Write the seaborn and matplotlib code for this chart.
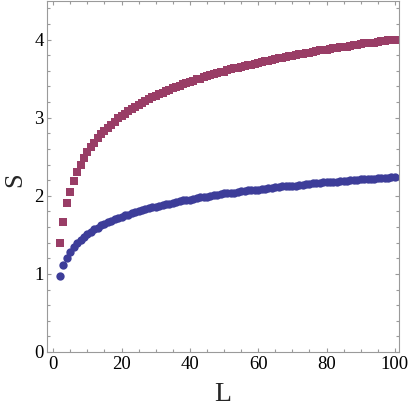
import numpy as np
import pandas as pd
import matplotlib
matplotlib.use("Agg")
import matplotlib.pyplot as plt
import seaborn as sns
from matplotlib.ticker import MultipleLocator

# ---- data ----
L_values = list(range(2, 101))

S_squares = [
    1.40, 1.66, 1.91, 2.05, 2.19, 2.30, 2.40, 2.49, 2.56, 2.62,
    2.68, 2.74, 2.79, 2.83, 2.87, 2.91, 2.95, 2.99, 3.02, 3.05,
    3.08, 3.11, 3.14, 3.16, 3.19, 3.21, 3.24, 3.26, 3.28, 3.30,
    3.32, 3.34, 3.36, 3.38, 3.39, 3.41, 3.43, 3.44, 3.46, 3.47,
    3.49, 3.50, 3.52, 3.53, 3.54, 3.56, 3.57, 3.58, 3.59, 3.61,
    3.62, 3.63, 3.64, 3.65, 3.66, 3.67, 3.68, 3.69, 3.70, 3.71,
    3.72, 3.73, 3.74, 3.75, 3.76, 3.77, 3.78, 3.79, 3.79, 3.80,
    3.81, 3.82, 3.83, 3.83, 3.84, 3.85, 3.86, 3.86, 3.87, 3.88,
    3.89, 3.89, 3.90, 3.91, 3.91, 3.92, 3.93, 3.93, 3.94, 3.95,
    3.95, 3.96, 3.96, 3.97, 3.98, 3.98, 3.99, 3.99, 4.00,
]

S_circles = [
    0.97, 1.11, 1.20, 1.28, 1.34, 1.39, 1.44, 1.47, 1.51, 1.54,
    1.57, 1.59, 1.62, 1.64, 1.66, 1.68, 1.70, 1.72, 1.73, 1.75,
    1.76, 1.78, 1.79, 1.81, 1.82, 1.83, 1.84, 1.85, 1.86, 1.87,
    1.88, 1.89, 1.90, 1.91, 1.92, 1.93, 1.94, 1.95, 1.95, 1.96,
    1.97, 1.98, 1.98, 1.99, 2.00, 2.01, 2.01, 2.02, 2.03, 2.03,
    2.04, 2.04, 2.05, 2.06, 2.06, 2.07, 2.07, 2.08, 2.08, 2.09,
    2.09, 2.10, 2.10, 2.11, 2.11, 2.12, 2.12, 2.13, 2.13, 2.13,
    2.14, 2.14, 2.15, 2.15, 2.16, 2.16, 2.16, 2.17, 2.17, 2.18,
    2.18, 2.18, 2.19, 2.19, 2.19, 2.20, 2.20, 2.20, 2.21, 2.21,
    2.22, 2.22, 2.22, 2.23, 2.23, 2.23, 2.23, 2.24, 2.24,
]

x_ticks = [0, 20, 40, 60, 80, 100]
y_ticks = [0, 1, 2, 3, 4]

# ---- style ----
sns.set_style("ticks")
plt.rcParams["font.family"] = ["Liberation Serif", "DejaVu Serif"]

frame_col = "#9a9a9a"
purple = "#993d66"
blue = "#3d3d99"

fig = plt.figure(figsize=(4.09, 4.12), dpi=100)
ax = fig.add_axes([46.5 / 409, 60 / 412, 352.5 / 409, 351.5 / 412])

df_sq = pd.DataFrame({"L": L_values, "S": S_squares})
df_ci = pd.DataFrame({"L": L_values, "S": S_circles})

sns.scatterplot(data=df_sq, x="L", y="S", marker="s", s=27, color=purple,
                linewidth=0, ax=ax, legend=False)
sns.scatterplot(data=df_ci, x="L", y="S", marker="o", s=36, color=blue,
                linewidth=0, ax=ax, legend=False)

ax.set_xlim(-1.95, 101.2)
ax.set_ylim(0, 4.5)
ax.set_xticks(x_ticks)
ax.set_yticks(y_ticks)
ax.xaxis.set_minor_locator(MultipleLocator(5))
ax.yaxis.set_minor_locator(MultipleLocator(0.2))

ax.tick_params(which="both", direction="in", top=True, right=True,
               color=frame_col, width=0.8, labelsize=13.5, labelcolor="black")
ax.tick_params(which="major", length=3.0)
ax.tick_params(which="minor", length=1.9)
ax.tick_params(axis="x", which="major", pad=3)
ax.tick_params(axis="y", which="major", pad=2)

for sp in ax.spines.values():
    sp.set_color(frame_col)
    sp.set_linewidth(0.8)

ax.set_xlabel("L", fontsize=20)
ax.set_ylabel("S", fontsize=19)
ax.xaxis.set_label_coords(0.5, -0.085)
ax.yaxis.set_label_coords(-0.058, 0.49)

fig.savefig("out.png", dpi=100)
